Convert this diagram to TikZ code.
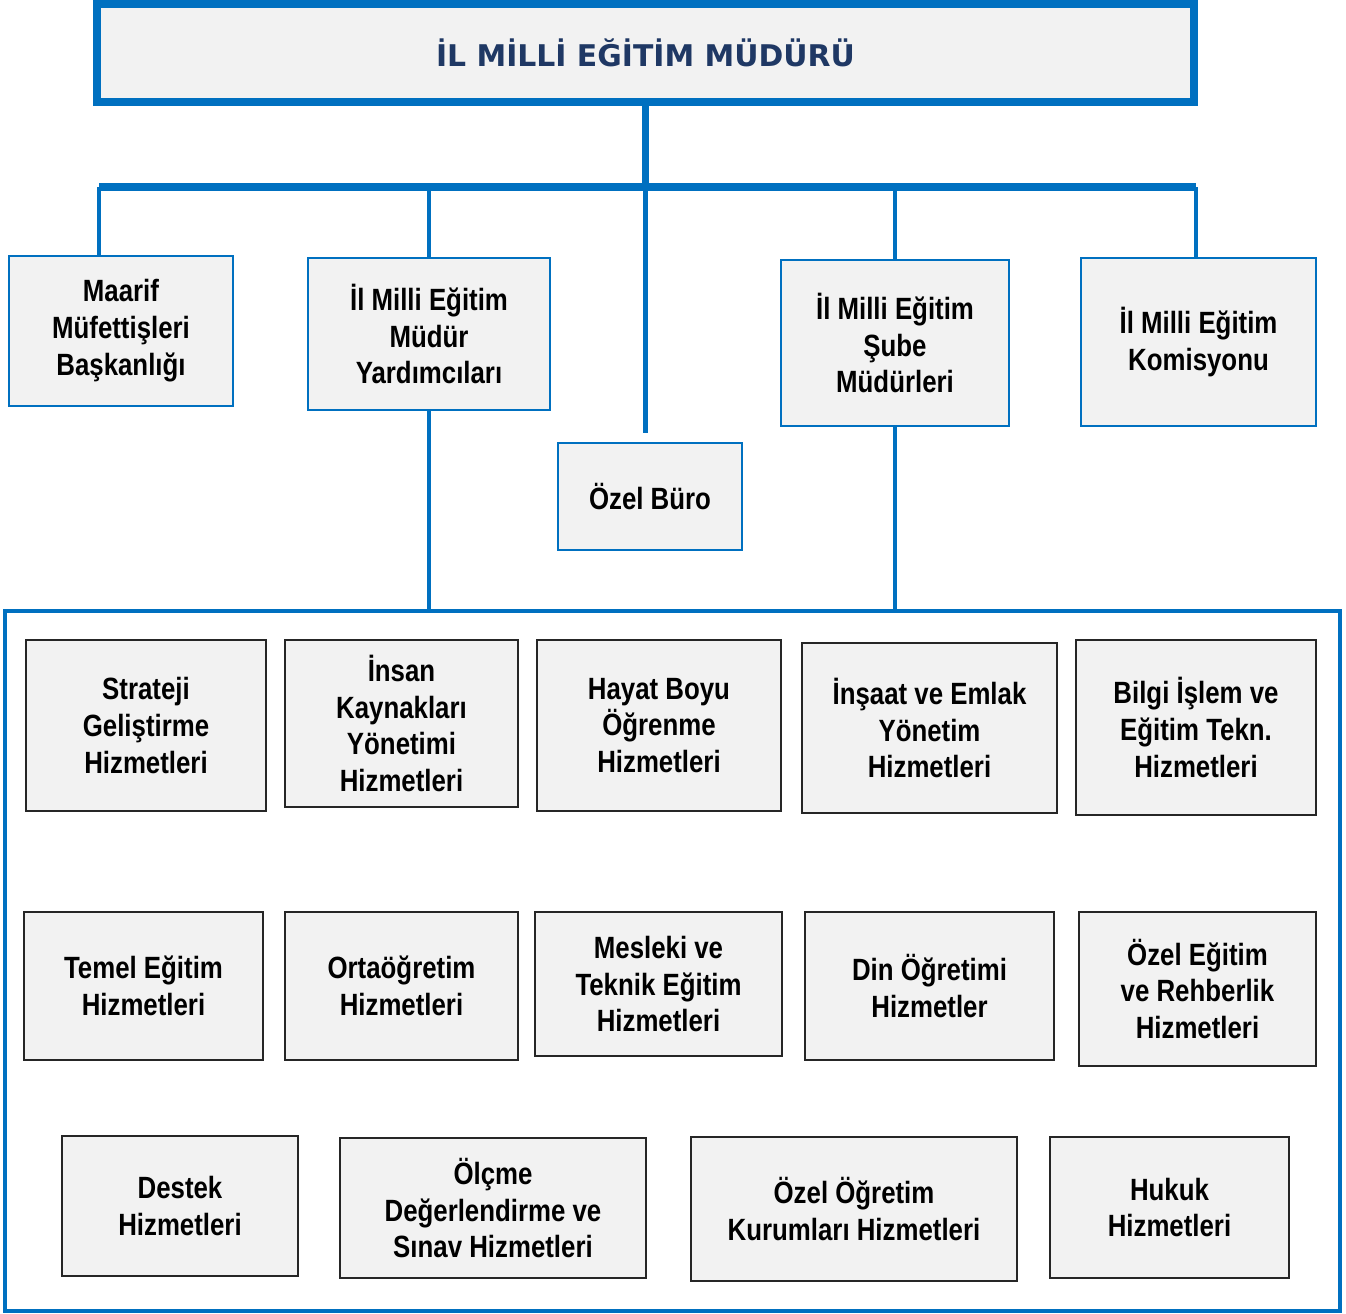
\documentclass[tikz,border=0pt]{standalone}
\usepackage{fontspec}
\usepackage{tikz}
\usetikzlibrary{positioning}
\newfontfamily\boxfont{Liberation Sans}[FakeStretch=0.84]
\newfontfamily\titlefont{DejaVu Sans}
\definecolor{mebblue}{HTML}{0070C0}
\definecolor{boxgray}{HTML}{F2F2F2}
\definecolor{titlenavy}{HTML}{1F3864}
\definecolor{edgegray}{HTML}{262626}
\newcommand{\boxtext}{\boxfont\bfseries\fontsize{17.5pt}{21pt}\selectfont}
\tikzset{
  dims/.style 2 args={ minimum width=#1*0.02cm, minimum height=#2*0.02cm, inner sep=0pt }
}
\tikzset{
  headbox/.style={ draw=mebblue, line width=4pt, fill=boxgray, text=titlenavy,
    font=\titlefont\bfseries\fontsize{17pt}{20pt}\selectfont }
}
\tikzset{
  unitbox/.style={ draw=mebblue, line width=1.4pt, fill=boxgray, align=center, font=\boxtext }
}
\tikzset{
  servbox/.style={ draw=edgegray, line width=1.1pt, fill=boxgray, align=center, font=\boxtext }
}
\tikzset{
  framebox/.style={ draw=mebblue, line width=2.2pt, fill=white }
}
\tikzset{
  bus/.style={ draw=mebblue, line width=4pt },
  drop/.style={ draw=mebblue, line width=2.8pt }
}
\begin{document}
\begin{tikzpicture}[x=0.02cm, y=-0.02cm]
      \useasboundingbox (0,0) rectangle (1346,1313);
      % frame of the service units
      \node[framebox, dims={1335}{700}] (cont) at (672.5, 961) {};

      \node[headbox, dims={1097}{98}] (top) at (645.5, 53) {İL MİLLİ EĞİTİM MÜDÜRÜ};

      \node[unitbox, dims={224}{150}] (maarif) at (121, 331) {Maarif\\Müfettişleri\\Başkanlığı};
      \node[unitbox, dims={242}{152}] (yard) at (429, 334) {İl Milli Eğitim\\Müdür\\Yardımcıları};
      \node[unitbox, dims={184}{107}] (buro) at (650, 496.5) {Özel Büro};
      \node[unitbox, dims={228}{166}] (sube) at (895, 343) {İl Milli Eğitim\\Şube\\Müdürleri};
      \node[unitbox, dims={235}{168}] (komis) at (1198.5, 342) {İl Milli Eğitim\\Komisyonu};

      \coordinate (busL) at (99, 187);
      \coordinate (busR) at (1196, 187);
      \draw[bus] (top.south) -- (top.south |- busL);
      \draw[bus] (busL) -- (busR);
      \draw[drop] (busL) -- (busL |- maarif.north);
      \draw[drop] (yard.north |- busL) -- (yard.north);
      \draw[drop] (top.south |- busL) -- ([yshift=5pt]top.south |- buro.north);
      \draw[drop] (sube.north |- busL) -- (sube.north);
      \draw[drop] (busR) -- (busR |- komis.north);
      \draw[drop] (yard.south) -- (yard.south |- cont.north);
      \draw[drop] (sube.south) -- (sube.south |- cont.north);

      % first row
      \node[servbox, dims={240}{171}] (strat) at (146, 725.5) {Strateji\\Geliştirme\\Hizmetleri};
      \node[servbox, dims={233}{167}] (insan) at (401.5, 723.5) {İnsan\\Kaynakları\\Yönetimi\\Hizmetleri};
      \node[servbox, dims={244}{171}] (hayat) at (659, 725.5) {Hayat Boyu\\Öğrenme\\Hizmetleri};
      \node[servbox, dims={255}{170}] (insaat) at (929.5, 728) {İnşaat ve Emlak\\Yönetim\\Hizmetleri};
      \node[servbox, dims={240}{175}] (bilgi) at (1196, 727.5) {Bilgi İşlem ve\\Eğitim Tekn.\\Hizmetleri};

      % second row
      \node[servbox, dims={239}{148}] (temel) at (143.5, 986) {Temel Eğitim\\Hizmetleri};
      \node[servbox, dims={233}{148}] (orta) at (401.5, 986) {Ortaöğretim\\Hizmetleri};
      \node[servbox, dims={247}{144}] (mesleki) at (658.5, 984) {Mesleki ve\\Teknik Eğitim\\Hizmetleri};
      \node[servbox, dims={249}{148}] (din) at (929.5, 986) {Din Öğretimi\\Hizmetler};
      \node[servbox, dims={237}{154}] (ozelegt) at (1197.5, 989) {Özel Eğitim\\ve Rehberlik\\Hizmetleri};

      % third row
      \node[servbox, dims={236}{140}] (destek) at (180, 1206) {Destek\\Hizmetleri};
      \node[servbox, dims={306}{140}] (olcme) at (493, 1208) {Ölçme\\Değerlendirme ve\\Sınav Hizmetleri};
      \node[servbox, dims={326}{144}] (ozelogr) at (854, 1209) {Özel Öğretim\\Kurumları Hizmetleri};
      \node[servbox, dims={239}{141}] (hukuk) at (1169.5, 1207.5) {Hukuk\\Hizmetleri};
    \end{tikzpicture}
\end{document}
